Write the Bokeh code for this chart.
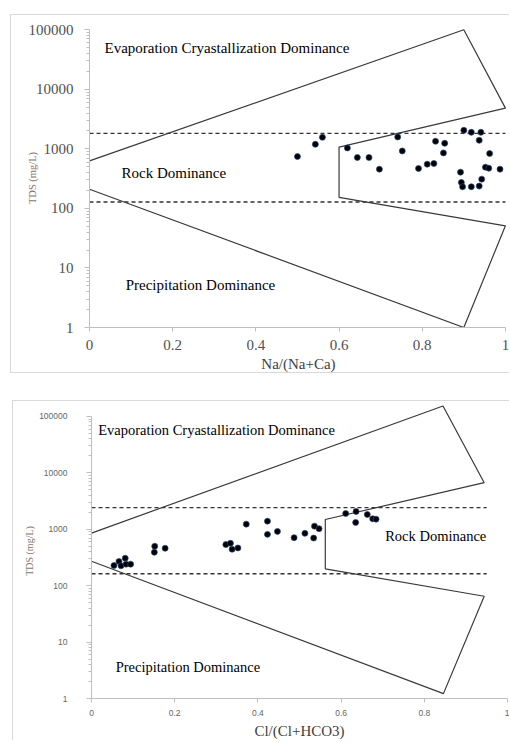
from bokeh.plotting import figure
from bokeh.models import FixedTicker, Label, Range1d
from bokeh.layouts import column
from bokeh.embed import file_html
from bokeh.resources import INLINE

# ---------------- data ----------------
x_ticks = [0, 0.2, 0.4, 0.6, 0.8, 1]
x_tick_labels = ["0", "0.2", "0.4", "0.6", "0.8", "1"]
y_ticks = [1, 10, 100, 1000, 10000, 100000]
y_tick_labels = ["1", "10", "100", "1000", "10000", "100000"]

# Panel 1: Na/(Na+Ca) vs TDS
na_ratio = [0.50, 0.543, 0.560, 0.620, 0.644, 0.672, 0.697, 0.741, 0.752, 0.791,
            0.812, 0.828, 0.832, 0.854, 0.851, 0.900, 0.918, 0.941, 0.937, 0.962,
            0.892, 0.894, 0.897, 0.918, 0.937, 0.943, 0.952, 0.960, 0.987]
na_tds = [743, 1194, 1563, 1035, 716, 716, 456, 1582, 923, 468,
          553, 568, 1340, 1241, 854, 2047, 1895, 1895, 1393, 834,
          406, 273, 231, 231, 237, 310, 492, 474, 456]

# Panel 2: Cl/(Cl+HCO3) vs TDS
cl_ratio = [0.054, 0.066, 0.071, 0.081, 0.083, 0.094, 0.152, 0.151, 0.177, 0.323,
            0.334, 0.338, 0.352, 0.372, 0.423, 0.423, 0.447, 0.487, 0.513, 0.536,
            0.547, 0.534, 0.611, 0.636, 0.635, 0.663, 0.676, 0.684]
cl_tds = [228, 268, 225, 307, 241, 241, 500, 392, 461, 536,
          565, 443, 467, 1235, 1394, 813, 918, 711, 847, 1138,
          1025, 700, 1905, 2066, 1323, 1829, 1537, 1513]

# Gibbs boundary outlines
na_boundary_x = [0, 0.9, 1.0, 0.6, 0.6, 1.0, 0.9, 0]
na_boundary_y = [627, 100000, 4830, 1070, 153, 51, 1, 210]
na_dash_x = [0, 1]
na_dash_levels = [1820, 128]

cl_boundary_x = [0, 0.845, 0.944, 0.562, 0.562, 0.944, 0.846, 0]
cl_boundary_y = [857, 153800, 6700, 1494, 199, 65, 1.22, 272]
cl_dash_x = [0, 0.95]
cl_dash_levels = [2430, 163]

zone_evap = "Evaporation  Cryastallization  Dominance"
zone_rock = "Rock Dominance"
zone_prec = "Precipitation  Dominance"

minor_y = [m * 10 ** k for k in range(5) for m in range(2, 10)]
SERIF = "Liberation Serif"


def panel(width, height, xr, yr, borders, xlabel, ratio, tds, bx, by, dash_x, dash_levels,
          tick_font, tick_size, tick_color, ylab_size, xlab_size, label_pos, label_size,
          y_standoff, y_label_standoff, x_tick_out, x_standoff, x_label_standoff, frame_styles, margin):
    p = figure(width=width, height=height, x_range=Range1d(*xr), y_range=Range1d(*yr),
               y_axis_type="log", output_backend="svg", toolbar_location=None,
               min_border_left=borders[0], min_border_right=borders[1],
               min_border_top=borders[2], min_border_bottom=borders[3],
               styles=frame_styles, margin=margin)
    p.outline_line_color = None
    p.grid.visible = False
    p.background_fill_color = "white"
    p.border_fill_color = "white"

    p.xaxis.ticker = FixedTicker(ticks=x_ticks)
    p.xaxis.major_label_overrides = dict(zip(x_ticks, x_tick_labels))
    p.xaxis.bounds = (0, 1)
    p.yaxis.ticker = FixedTicker(ticks=y_ticks, minor_ticks=minor_y)
    p.yaxis.major_label_overrides = dict(zip(y_ticks, y_tick_labels))
    p.yaxis.bounds = (1, 100000)

    for ax in (p.xaxis, p.yaxis):
        ax.axis_line_color = "#bfbfbf"
        ax.major_tick_line_color = "#bfbfbf"
        ax.minor_tick_line_color = "#bfbfbf"
        ax.major_label_text_font = tick_font
        ax.major_label_text_font_size = tick_size
        ax.major_label_text_color = tick_color
        ax.axis_label_text_font = SERIF
        ax.axis_label_text_font_style = "normal"
    p.xaxis.major_tick_in = 0
    p.xaxis.major_tick_out = x_tick_out
    p.xaxis.minor_tick_out = 0
    p.xaxis.minor_tick_in = 0
    p.xaxis.major_label_standoff = x_standoff
    p.xaxis.axis_label = xlabel
    p.xaxis.axis_label_text_font_size = xlab_size
    p.xaxis.axis_label_text_color = "#404040"
    p.xaxis.axis_label_standoff = x_label_standoff

    p.yaxis.major_tick_in = 0
    p.yaxis.major_tick_out = 5
    p.yaxis.minor_tick_in = 0
    p.yaxis.minor_tick_out = 3
    p.yaxis.major_label_standoff = y_standoff
    p.yaxis.axis_label = "TDS (mg/L)"
    p.yaxis.axis_label_text_font_size = ylab_size
    p.yaxis.axis_label_text_color = "#85766c"
    p.yaxis.axis_label_standoff = y_label_standoff

    p.line(bx, by, line_color="#3a3a3a", line_width=1.2)
    for lvl in dash_levels:
        p.line(dash_x, [lvl, lvl], line_color="#333333", line_width=1.3, line_dash="4 3")
    p.scatter(ratio, tds, size=6, fill_color="black", line_color="#2b4a80", line_width=0.7)

    for txt, (lx, ly) in zip([zone_evap, zone_rock, zone_prec], label_pos):
        p.add_layout(Label(x=lx, y=ly, text=txt, text_font=SERIF, text_font_size=label_size,
                           text_color="black", text_baseline="middle", text_align="left"))
    return p


border3 = {"border-left": "1px solid #d9d9d9", "border-top": "1px solid #d9d9d9",
           "border-bottom": "1px solid #d9d9d9"}
border2 = {"border-left": "1px solid #d9d9d9", "border-top": "1px solid #d9d9d9"}

p1 = panel(499, 359, (0, 1.005), (1, 1.05e5), (78, 3, 13, 46), "Na/(Na+Ca)",
           na_ratio, na_tds, na_boundary_x, na_boundary_y, na_dash_x, na_dash_levels,
           SERIF, "15px", "#505050", "10.5px", "15px",
           [(0.036, 50000), (0.077, 390), (0.087, 5.2)], "15px",
           11, -12, 4, 8, 3, border3, (14, 0, 0, 10))

p2 = panel(497, 340, (0, 1), (1, 1.7e5), (68, 2, 2, 41), "Cl/(Cl+HCO3)",
           cl_ratio, cl_tds, cl_boundary_x, cl_boundary_y, cl_dash_x, cl_dash_levels,
           "Liberation Sans", "8.5px", "#666666", "10px", "15px",
           [(0.016, 57000), (0.706, 760), (0.058, 3.6)], "14.5px",
           19, 1, 4, 7, 4, border2, (27, 0, 0, 12))

layout = column(p1, p2, spacing=0)
open("out.html", "w").write(file_html(layout, INLINE))
